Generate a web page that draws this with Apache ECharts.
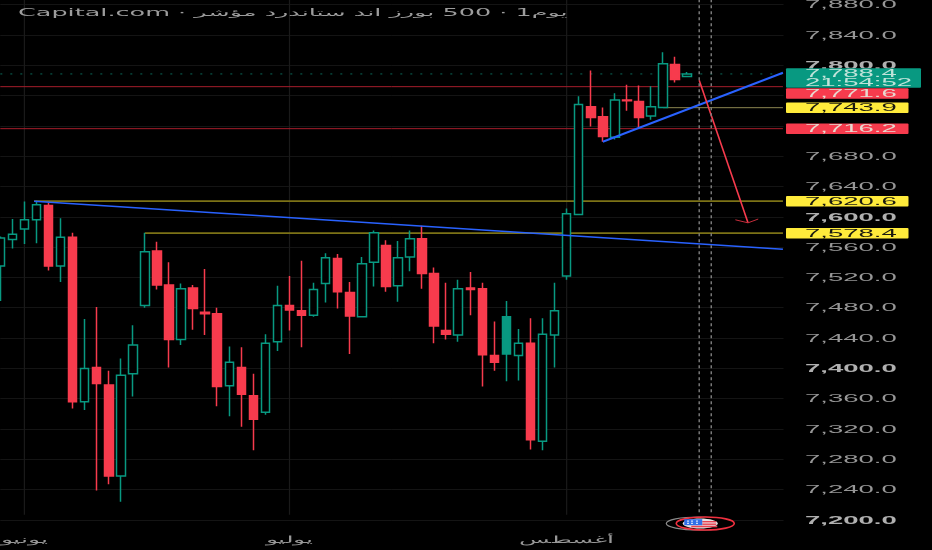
<!DOCTYPE html>
<html><head><meta charset="utf-8">
<style>html,body{margin:0;padding:0;background:#000}#c{width:932px;height:550px}</style>
<script src="https://cdn.jsdelivr.net/npm/echarts@6/dist/echarts.min.js"></script>
</head><body><div id="c"></div>
<script>
const opens =[7535,7570,7584,7596,7615,7535,7573,7356,7401,7378,7258,7393,7483,7555,7510,7438,7506,7474,7472,7377,7401,7364,7342,7435,7483,7476,7470,7512,7545,7500,7468,7540,7562,7509,7547,7571,7525,7450,7444,7506,7505,7417,7419,7417,7433,7304,7444,7522,7603,7745,7732,7705,7754,7752,7733,7744,7801,7785];
const closes=[7572,7577,7596,7616,7535,7573,7356,7400,7380,7258,7391,7431,7554,7510,7438,7505,7479,7472,7376,7408,7366,7333,7433,7483,7477,7470,7504,7546,7501,7469,7538,7579,7508,7546,7571,7525,7456,7445,7505,7504,7418,7408,7468,7433,7306,7445,7476,7604,7748,7731,7706,7754,7753,7731,7745,7802,7781,7788.4];
const lows  =[7489,7558,7564,7565,7529,7514,7347,7345,7239,7247,7224,7363,7480,7504,7401,7431,7451,7444,7350,7337,7323,7292,7339,7423,7450,7428,7468,7487,7479,7419,7467,7508,7501,7488,7528,7505,7433,7438,7435,7470,7376,7397,7383,7384,7293,7292,7401,7517,7603,7719,7699,7702,7740,7717,7728,7744,7777,7784];
const highs =[7574,7597,7620,7621,7618,7598,7579,7465,7481,7397,7413,7457,7579,7567,7540,7512,7510,7531,7480,7429,7428,7393,7445,7509,7522,7542,7513,7552,7551,7514,7547,7582,7569,7568,7582,7588,7533,7513,7517,7527,7513,7462,7489,7452,7466,7466,7513,7611,7759,7793,7744,7763,7774,7773,7772,7817,7811,7791];
const filledUpIndex=[42];
const yTicks=[7880,7840,7800,7760,7720,7680,7640,7600,7560,7520,7480,7440,7400,7360,7320,7280,7240,7200];
const hiddenTicks=[7760,7720];
const boldTicks=[7800,7600,7400,7200];
const monthIdx=[2,24,47];
const monthNames=['يونيو','يوليو','أغسطس'];
const dashedIdx=[58,59];
const lastPrice=[7788.4];
const countdown='21:54:52';
const redLevels=[7771.6,7716.2];
const yellowLevels=[7743.9,7620.6,7578.4];
const titleText='Capital.com · مؤشر\u200E ستاندرد\u200E اند\u200E بورز\u200E 500 · 1يوم';
const blueA=[[2.8,7620.6],[64.95,7557]];
const blueB=[[50,7699],[64.95,7790]];
const arrowShaft=[[58,7780],[62.05,7592]];
const arrowHead=[[61,7596],[62.05,7592],[62.9,7597]];
const goldA=[[2.8,7620.6],[64.95,7620.6]];
const goldB=[[12,7578.4],[64.95,7578.4]];
const goldC=[[55,7743.9],[64.95,7743.9]];
const redA=[[0,7771.6],[64.95,7771.6]];
const redB=[[0,7716.2],[64.95,7716.2]];
const lastLine=[[0,7788.4],[64.95,7788.4]];
const eventMarker=[[59,7200]];

const TEAL='#089981',RED='#f73b4d',YEL='#ffeb3b';
const FONT='"Liberation Sans",Arimo,sans-serif';
const SX=2.75;
const fmt=v=>v.toLocaleString('en-US',{minimumFractionDigits:1,maximumFractionDigits:1});

function txt(x,y,text,fill,size,bold,align,sx){
  return {type:'text',x,y,scaleX:sx||SX,style:{text,x:0,y:0,fill,
    font:(bold?'bold ':'')+size+'px '+FONT,align:align||'left',verticalAlign:'middle'}};
}
function seg(points,color,width,dash,z){
  return {type:'line',xAxisIndex:1,data:points,symbol:'none',clip:false,silent:true,z:z||3,animation:false,
    lineStyle:{color,width,type:dash||'solid',opacity:1}};
}
const cats=Array.from({length:66},(_,i)=>String(i));
const candles=opens.map((o,i)=>{
  const v=[o,closes[i],lows[i],highs[i]];
  return filledUpIndex.includes(i)?{value:v,itemStyle:{color:TEAL}}:v;
});
const TAG_L=786,TAG_R=908.5,LBL_L=805;
const tagShift=v=>v===redLevels[0]?6.8:0;

const option={
  backgroundColor:'#000',animation:false,
  grid:{left:0.3,top:4.5,width:783.25,bottom:30,containLabel:false},
  xAxis:[
    {type:'category',data:cats,boundaryGap:false,show:false},
    {type:'value',min:0,max:65,show:false}
  ],
  yAxis:{type:'value',min:7200,max:7880,interval:40,position:'right',
    axisLine:{show:false},axisTick:{show:false},axisLabel:{show:false},
    splitLine:{show:true,lineStyle:{color:'#141414',width:1}}},
  graphic:[{type:'text',x:18,y:13,scaleX:2.55,z:20,style:{text:titleText,fill:'#9c9c9c',
     font:'10px "DejaVu Sans",'+FONT,align:'left',verticalAlign:'middle'}}],
  series:[
    {type:'custom',xAxisIndex:1,silent:true,z:1,data:monthIdx.map((m,i)=>[m,7200,i]),
     renderItem:(p,api)=>{const a=api.coord([api.value(0),7887]),b=api.coord([api.value(0),7207]);
       return {type:'line',shape:{x1:a[0],y1:a[1],x2:b[0],y2:b[1]},style:{stroke:'#1a1a1a',lineWidth:1.2}};}},
    {type:'candlestick',xAxisIndex:0,data:candles,barWidth:9,z:5,clip:false,
     itemStyle:{color:'#000',color0:RED,borderColor:TEAL,borderColor0:RED,borderWidth:1.5}},
    seg(redA,'#a51d2b',1),seg(redB,'#a51d2b',1),
    seg(goldA,'#7c7216',1.6),seg(goldB,'#7c7216',1.6),seg(goldC,'#8c8650',1),
    seg(lastLine,'#0b6a5a',1,[2,8]),
    seg(blueA,'#2962ff',1.5,null,6),seg(blueB,'#2962ff',2,null,6),
    seg(arrowShaft,RED,1.6,null,6),seg(arrowHead,'#c62d3b',1,null,6),
    {type:'custom',xAxisIndex:1,silent:true,z:7,data:dashedIdx.map(d=>[d,7200]),
     renderItem:(p,api)=>{const a=api.coord([api.value(0),7887]),b=api.coord([api.value(0),7207]);
       return {type:'line',shape:{x1:a[0],y1:a[1],x2:b[0],y2:b[1]},style:{stroke:'#808080',lineWidth:1.4,lineDash:[3,3]}};}},
    {type:'custom',xAxisIndex:1,silent:true,z:8,data:eventMarker,
     renderItem:(p,api)=>{const c=api.coord([api.value(0),api.value(1)]);const cx=c[0],cy=c[1]+3.5;
       const e=(dx,rx,ry,style)=>({type:'ellipse',shape:{cx:cx+dx,cy,rx,ry},style});
       const r=(x,y,w,h,fill)=>({type:'rect',shape:{x:cx+x,y:cy+y,width:w,height:h},style:{fill}});
       return {type:'group',children:[
         e(-13,32,6.5,{fill:'#000',stroke:'#8a8a8a',lineWidth:1.2}),
         e(-6,29,6.5,{fill:'#000',stroke:'#f0303f',lineWidth:1.6}),
         e(-11,17.5,5,{fill:'#e8e2e2'}),
         r(-9,-2.5,14,1.4,'#e84050'),r(-9,0,14,1.4,'#e84050'),r(-20,2.2,26,1.6,'#e84050'),
         r(-27,-4.3,18,6,'#2f6fe8'),
         r(-24,-3,1.5,1.2,'#fff'),r(-20,-3,1.5,1.2,'#fff'),r(-15,-3,1.5,1.2,'#fff'),
         r(-24,-0.8,1.5,1.2,'#fff'),r(-20,-0.8,1.5,1.2,'#fff'),r(-15,-0.8,1.5,1.2,'#fff')
       ]};}},
    {type:'custom',xAxisIndex:1,silent:true,z:9,data:yTicks.map(v=>[0,v]),
     renderItem:(p,api)=>{const v=api.value(1);
       if(hiddenTicks.includes(v))return null;
       const c=api.coord([0,v]);
       const bold=boldTicks.includes(v);
       return txt(LBL_L,c[1]+1,fmt(v),bold?'#b0b0b0':'#969696',10,bold);}},
    {type:'custom',xAxisIndex:1,silent:true,z:10,data:redLevels.map(v=>[0,v]),
     renderItem:(p,api)=>{const v=api.value(1),c=api.coord([0,v]),y=c[1]+tagShift(v);
       return {type:'group',children:[
         {type:'rect',shape:{x:TAG_L,y:y-5.2,width:TAG_R-TAG_L,height:10.5,r:1},style:{fill:RED}},
         txt(LBL_L,y+0.8,fmt(v),'#e7d8cf',10)]};}},
    {type:'custom',xAxisIndex:1,silent:true,z:10,data:yellowLevels.map(v=>[0,v]),
     renderItem:(p,api)=>{const v=api.value(1),c=api.coord([0,v]);
       return {type:'group',children:[
         {type:'rect',shape:{x:TAG_L,y:c[1]-5.2,width:TAG_R-TAG_L,height:10.5,r:1},style:{fill:YEL}},
         txt(LBL_L,c[1]+0.8,fmt(v),'#1a1a10',10)]};}},
    {type:'custom',xAxisIndex:1,silent:true,z:11,data:lastPrice.map(v=>[0,v]),
     renderItem:(p,api)=>{const v=api.value(1),c=api.coord([0,v]);
       return {type:'group',children:[
         {type:'rect',shape:{x:TAG_L,y:c[1]-5.7,width:135,height:19.4,r:1},style:{fill:TEAL}},
         txt(LBL_L,c[1]+0.2,fmt(v),'#bfe3d9',10),
         txt(LBL_L,c[1]+9,countdown,'#bfe3d9',10)]};}},
    {type:'custom',xAxisIndex:1,silent:true,z:9,data:monthIdx.map((m,i)=>[m,7200,i]),
     renderItem:(p,api)=>{const c=api.coord([api.value(0),api.value(1)]);
       return txt(c[0],c[1]+20.5,monthNames[api.value(2)],'#989898',10,false,'center',2.5);}}
  ]
};
const chart=echarts.init(document.getElementById('c'),null,{renderer:'canvas'});
chart.setOption(option);
</script></body></html>
